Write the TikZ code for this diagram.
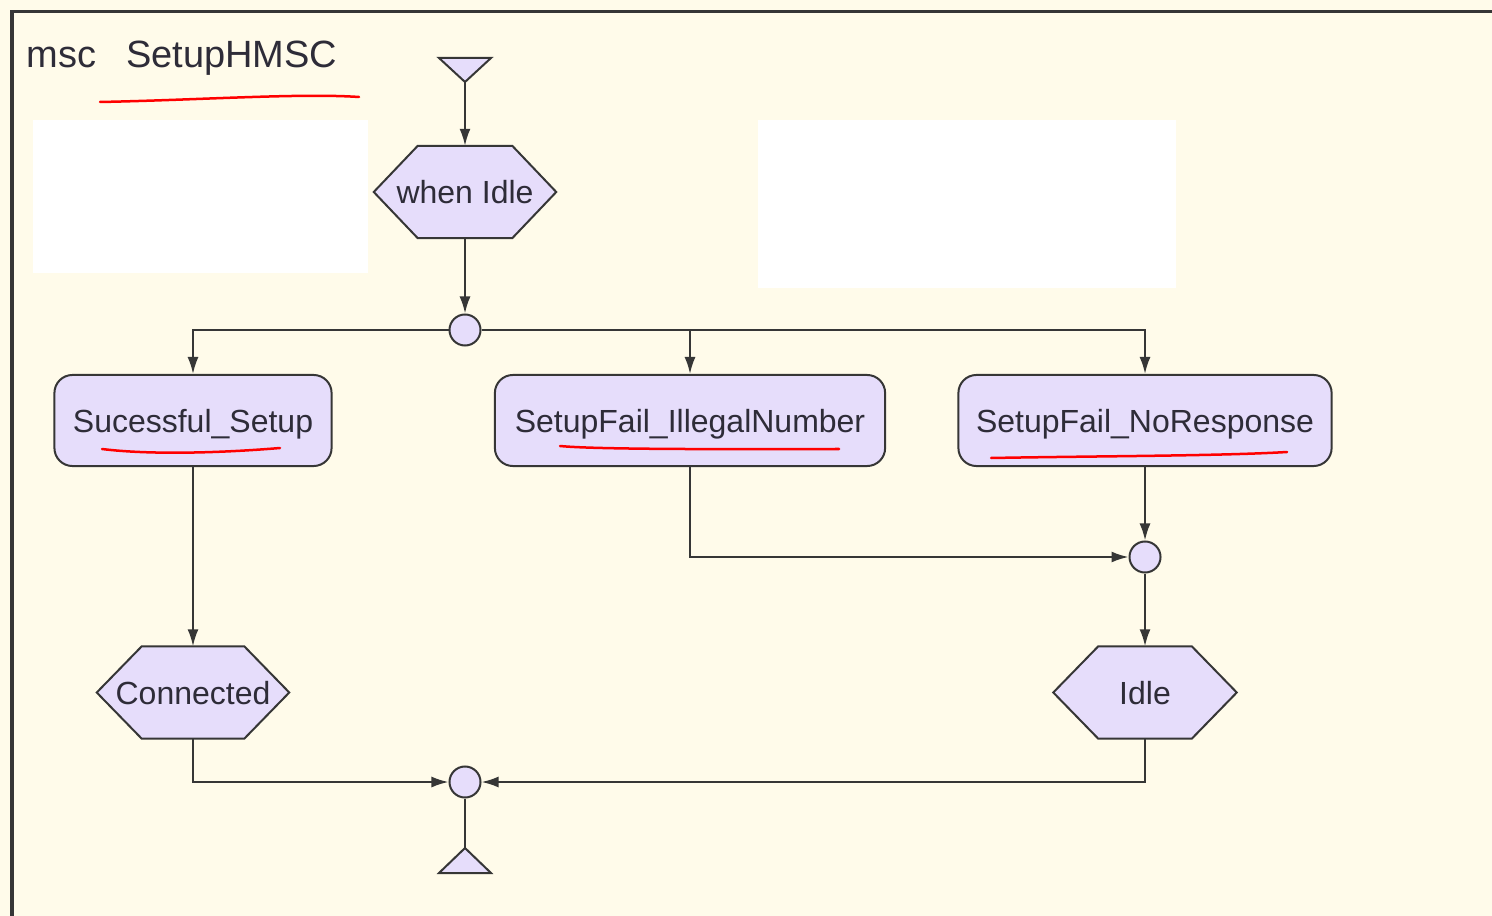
\documentclass[tikz,border=0pt]{standalone}
\usepackage{fontspec}
\setmainfont{Liberation Sans}
\usetikzlibrary{arrows.meta}
\definecolor{bgcream}{HTML}{FFFBEA}
\definecolor{lav}{HTML}{E6DDFB}
\definecolor{edge}{HTML}{363636}
\definecolor{txt}{HTML}{2E2C38}
\tikzset{
  px/.style={x=0.01cm,y=-0.01cm},
  conn/.style={draw=edge,line width=0.02cm},
  arr/.style={conn,-{Latex[length=0.17cm,width=0.11cm]}},
  lbl/.style={text=txt,font=\fontsize{9.1pt}{11pt}\selectfont,text height=0.30cm,text depth=0.07cm},
  msgbox/.style={lbl,draw=edge,fill=lav,line width=0.02cm,rounded corners=0.18cm,
    minimum height=0.91cm,inner sep=0pt},
  hexcore/.style={draw=none,minimum height=0.91cm,inner sep=0pt},
  joint/.style={circle,draw=edge,fill=lav,line width=0.02cm,minimum size=0.31cm,inner sep=0pt},
  hexline/.style={draw=edge,fill=lav,line width=0.02cm,line join=miter},
  redmark/.style={draw=red,line width=0.025cm,line cap=round},
}
\newcommand{\hexshape}[2]{% node name, tip length
  \path[hexline] (#1.north west) -- (#1.north east) -- ([xshift=#2]#1.east)
    -- (#1.south east) -- (#1.south west) -- ([xshift=-#2]#1.west) -- cycle;}
\begin{document}
\begin{tikzpicture}[px]
\useasboundingbox (0,0) rectangle (1492,916);
\fill[bgcream] (0,0) rectangle (1492,916);
% frame
\draw[edge,line width=0.03cm] (12,916) -- (12,12) -- (1492,12);
% title
\node[anchor=base west,text=txt,font=\fontsize{10.8pt}{13pt}\selectfont,inner sep=0pt] (title) at (26,68) {msc\hspace{0.3cm}SetupHMSC};
% white patches
\fill[white] (33,120) rectangle (368,273);
\fill[white] (758,120) rectangle (1176,288);

% start / end symbols
\coordinate (start) at (465,82);
\path[hexline] (439,58) -- (491,58) -- (start) -- cycle;
\coordinate (stop) at (465,848);

% hexagons
\node[hexcore,minimum width=0.93cm] (when) at (465,192) {};
\hexshape{when}{0.44cm}
\node[lbl] at (when) {when Idle};

\node[hexcore,minimum width=1.01cm] (connected) at (193,692.5) {};
\hexshape{connected}{0.45cm}
\node[lbl] at (connected) {Connected};

\node[hexcore,minimum width=0.92cm] (idle) at (1145,692.5) {};
\hexshape{idle}{0.45cm}
\node[lbl] at (idle) {Idle};

% message boxes
\node[msgbox,minimum width=2.77cm] (succ) at (193,420.5) {Sucessful\_Setup};
\node[msgbox,minimum width=3.90cm] (illegal) at (690,420.5) {SetupFail\_IllegalNumber};
\node[msgbox,minimum width=3.73cm] (noresp) at (1145,420.5) {SetupFail\_NoResponse};

% joints
\node[joint] (j1) at (465,330) {};
\node[joint] (j2) at (1145,557) {};
\node[joint] (j3) at (465,782) {};

\path[hexline] (stop) -- (491,873) -- (439,873) -- cycle;

% connectors
\draw[arr] (start) -- (when.north);
\draw[arr] (when.south) -- (j1.north);
\draw[arr] (j1.west) -| (succ.north);
\draw[arr] (j1.east) -| (noresp.north);
\draw[arr] (illegal.north |- j1) -- (illegal.north);
\draw[arr] (succ.south) -- (connected.north);
\draw[arr] (illegal.south) |- (j2.west);
\draw[arr] (noresp.south) -- (j2.north);
\draw[arr] (j2.south) -- (idle.north);
\draw[arr] (connected.south) |- (j3.west);
\draw[arr] (idle.south) |- (j3.east);
\draw[conn] (j3.south) -- (stop);

% red annotation strokes
\draw[redmark] (100,102) .. controls (200,100) and (300,93) .. (359,97);
\draw[redmark] (102,449) .. controls (150,455) and (220,453) .. (280,448);
\draw[redmark] (560,446) .. controls (600,450) and (760,449) .. (839,449);
\draw[redmark] (991,458) .. controls (1100,456) and (1220,456) .. (1287,452);
\end{tikzpicture}
\end{document}
